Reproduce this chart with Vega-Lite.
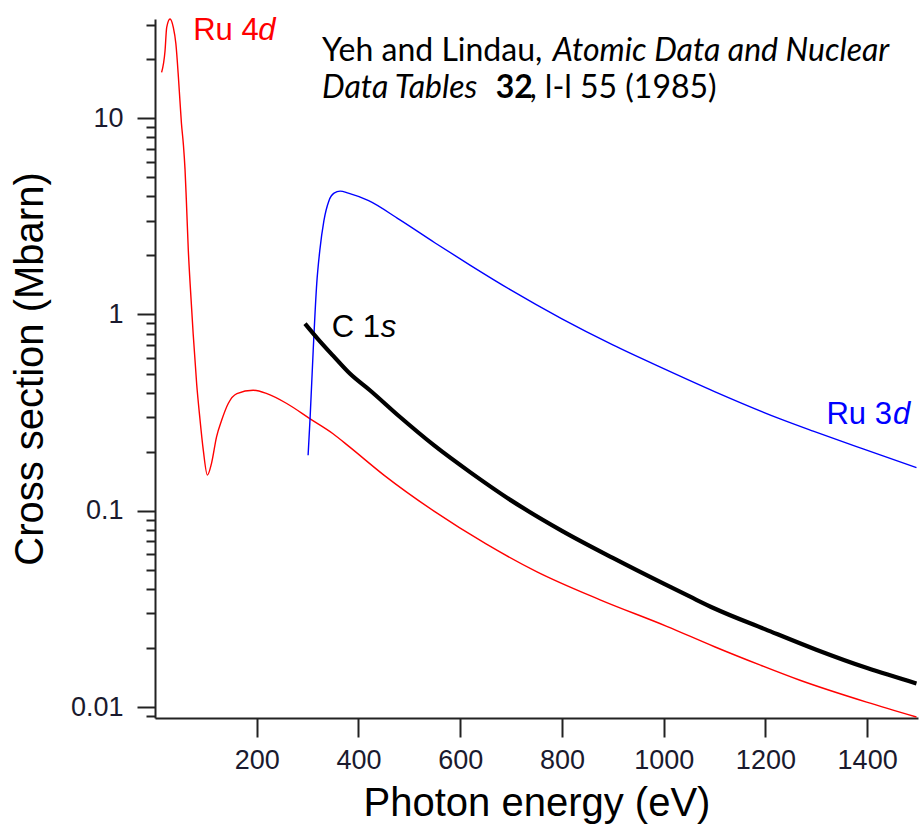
{
  "$schema": "https://vega.github.io/schema/vega-lite/v6.json",
  "width": 763,
  "height": 699,
  "autosize": "none",
  "padding": {"left": 155, "top": 19, "right": 3, "bottom": 111},
  "background": "white",
  "config": {"view": {"stroke": null}, "font": "Liberation Sans"},
  "datasets": {
    "curves": [
      {"series": "Ru 4d", "E": 13, "sigma": 17.1},
      {"series": "Ru 4d", "E": 19.7, "sigma": 22},
      {"series": "Ru 4d", "E": 23, "sigma": 29},
      {"series": "Ru 4d", "E": 29.5, "sigma": 32},
      {"series": "Ru 4d", "E": 36, "sigma": 29},
      {"series": "Ru 4d", "E": 41, "sigma": 24},
      {"series": "Ru 4d", "E": 46, "sigma": 16.2},
      {"series": "Ru 4d", "E": 49, "sigma": 12.3},
      {"series": "Ru 4d", "E": 52, "sigma": 9.4},
      {"series": "Ru 4d", "E": 55.7, "sigma": 7.4},
      {"series": "Ru 4d", "E": 59, "sigma": 5.5},
      {"series": "Ru 4d", "E": 61.5, "sigma": 3.9},
      {"series": "Ru 4d", "E": 65.5, "sigma": 2.12},
      {"series": "Ru 4d", "E": 69, "sigma": 1.44},
      {"series": "Ru 4d", "E": 75, "sigma": 0.8},
      {"series": "Ru 4d", "E": 82, "sigma": 0.44},
      {"series": "Ru 4d", "E": 88, "sigma": 0.3},
      {"series": "Ru 4d", "E": 95, "sigma": 0.203},
      {"series": "Ru 4d", "E": 103, "sigma": 0.152},
      {"series": "Ru 4d", "E": 111, "sigma": 0.174},
      {"series": "Ru 4d", "E": 121, "sigma": 0.238},
      {"series": "Ru 4d", "E": 131, "sigma": 0.289},
      {"series": "Ru 4d", "E": 144, "sigma": 0.352},
      {"series": "Ru 4d", "E": 161, "sigma": 0.395},
      {"series": "Ru 4d", "E": 193, "sigma": 0.411},
      {"series": "Ru 4d", "E": 220, "sigma": 0.395},
      {"series": "Ru 4d", "E": 259, "sigma": 0.352},
      {"series": "Ru 4d", "E": 305, "sigma": 0.294},
      {"series": "Ru 4d", "E": 350, "sigma": 0.247},
      {"series": "Ru 4d", "E": 383, "sigma": 0.211},
      {"series": "Ru 4d", "E": 450, "sigma": 0.152},
      {"series": "Ru 4d", "E": 550, "sigma": 0.099},
      {"series": "Ru 4d", "E": 650, "sigma": 0.068},
      {"series": "Ru 4d", "E": 750, "sigma": 0.049},
      {"series": "Ru 4d", "E": 875, "sigma": 0.0352},
      {"series": "Ru 4d", "E": 1006, "sigma": 0.0258},
      {"series": "Ru 4d", "E": 1100, "sigma": 0.0203},
      {"series": "Ru 4d", "E": 1189, "sigma": 0.0164},
      {"series": "Ru 4d", "E": 1268, "sigma": 0.0137},
      {"series": "Ru 4d", "E": 1399, "sigma": 0.0106},
      {"series": "Ru 4d", "E": 1497, "sigma": 0.0089},
      {"series": "Ru 3d", "E": 301, "sigma": 0.192},
      {"series": "Ru 3d", "E": 305, "sigma": 0.3},
      {"series": "Ru 3d", "E": 311, "sigma": 0.656},
      {"series": "Ru 3d", "E": 318, "sigma": 1.44},
      {"series": "Ru 3d", "E": 324, "sigma": 2.12},
      {"series": "Ru 3d", "E": 332, "sigma": 3.0},
      {"series": "Ru 3d", "E": 342, "sigma": 3.8},
      {"series": "Ru 3d", "E": 352, "sigma": 4.15},
      {"series": "Ru 3d", "E": 364, "sigma": 4.25},
      {"series": "Ru 3d", "E": 380, "sigma": 4.15},
      {"series": "Ru 3d", "E": 420, "sigma": 3.8},
      {"series": "Ru 3d", "E": 480, "sigma": 3.05},
      {"series": "Ru 3d", "E": 550, "sigma": 2.32},
      {"series": "Ru 3d", "E": 620, "sigma": 1.78},
      {"series": "Ru 3d", "E": 700, "sigma": 1.33},
      {"series": "Ru 3d", "E": 800, "sigma": 0.95},
      {"series": "Ru 3d", "E": 900, "sigma": 0.7},
      {"series": "Ru 3d", "E": 1000, "sigma": 0.53},
      {"series": "Ru 3d", "E": 1100, "sigma": 0.405},
      {"series": "Ru 3d", "E": 1229, "sigma": 0.294},
      {"series": "Ru 3d", "E": 1294, "sigma": 0.2546},
      {"series": "Ru 3d", "E": 1392, "sigma": 0.2067},
      {"series": "Ru 3d", "E": 1497, "sigma": 0.166},
      {"series": "C 1s", "E": 295, "sigma": 0.898},
      {"series": "C 1s", "E": 320, "sigma": 0.752},
      {"series": "C 1s", "E": 350, "sigma": 0.617},
      {"series": "C 1s", "E": 383, "sigma": 0.5},
      {"series": "C 1s", "E": 423, "sigma": 0.41},
      {"series": "C 1s", "E": 480, "sigma": 0.303},
      {"series": "C 1s", "E": 550, "sigma": 0.214},
      {"series": "C 1s", "E": 620, "sigma": 0.157},
      {"series": "C 1s", "E": 700, "sigma": 0.113},
      {"series": "C 1s", "E": 800, "sigma": 0.079},
      {"series": "C 1s", "E": 900, "sigma": 0.0575},
      {"series": "C 1s", "E": 1000, "sigma": 0.0425},
      {"series": "C 1s", "E": 1052, "sigma": 0.0365},
      {"series": "C 1s", "E": 1100, "sigma": 0.0318},
      {"series": "C 1s", "E": 1200, "sigma": 0.0249},
      {"series": "C 1s", "E": 1300, "sigma": 0.0196},
      {"series": "C 1s", "E": 1400, "sigma": 0.0158},
      {"series": "C 1s", "E": 1497, "sigma": 0.0132}
    ]
  },
  "layer": [
    {
      "data": {"name": "curves"},
      "transform": [{"filter": "datum.series === 'Ru 4d'"}],
      "mark": {"type": "line", "clip": false, "interpolate": "monotone", "strokeJoin": "round", "color": "#ff0000", "strokeWidth": 1.4},
      "encoding": {
        "x": {
          "field": "E", "type": "quantitative",
          "scale": {"domain": [0, 1500], "nice": false, "zero": false},
          "axis": {
            "values": [200, 400, 600, 800, 1000, 1200, 1400],
            "format": "d",
            "title": "Photon energy (eV)",
            "titleFontSize": 40, "titleFontWeight": "normal", "titleColor": "#000000", "titleFont": "Liberation Sans",
            "titlePadding": 10,
            "labelFontSize": 27, "labelColor": "#1a1a2e", "labelFont": "Liberation Sans", "labelPadding": 10,
            "tickSize": 19, "tickWidth": 2, "tickColor": "#222222",
            "domainColor": "#222222", "domainWidth": 2, "grid": false
          }
        },
        "y": {
          "field": "sigma", "type": "quantitative",
          "scale": {"type": "log", "domain": [0.0088, 32], "nice": false},
          "axis": {
            "values": [0.009, 0.01, 0.02, 0.03, 0.04, 0.05, 0.06, 0.07, 0.08, 0.09, 0.1, 0.2, 0.3, 0.4, 0.5, 0.6, 0.7, 0.8, 0.9, 1, 2, 3, 4, 5, 6, 7, 8, 9, 10, 20, 30],
            "format": "~g",
            "labelExpr": "abs(log(datum.value)/LN10 - round(log(datum.value)/LN10)) < 0.001 ? datum.label : ''",
            "tickSize": {"condition": {"test": "abs(log(datum.value)/LN10 - round(log(datum.value)/LN10)) < 0.001", "value": 18}, "value": 9},
            "title": "Cross section (Mbarn)",
            "titleFontSize": 40, "titleFontWeight": "normal", "titleColor": "#000000", "titleFont": "Liberation Sans",
            "titlePadding": 20,
            "labelFontSize": 27, "labelColor": "#1a1a2e", "labelFont": "Liberation Sans", "labelPadding": 14,
            "tickWidth": 2, "tickColor": "#222222",
            "domainColor": "#222222", "domainWidth": 2, "grid": false
          }
        }
      }
    },
    {
      "data": {"name": "curves"},
      "transform": [{"filter": "datum.series === 'Ru 3d'"}],
      "mark": {"type": "line", "clip": false, "interpolate": "monotone", "strokeJoin": "round", "color": "#0000ff", "strokeWidth": 1.4},
      "encoding": {
        "x": {"field": "E", "type": "quantitative"},
        "y": {"field": "sigma", "type": "quantitative"}
      }
    },
    {
      "data": {"name": "curves"},
      "transform": [{"filter": "datum.series === 'C 1s'"}],
      "mark": {"type": "line", "clip": false, "interpolate": "monotone", "strokeJoin": "round", "color": "#000000", "strokeWidth": 4.2},
      "encoding": {
        "x": {"field": "E", "type": "quantitative"},
        "y": {"field": "sigma", "type": "quantitative"}
      }
    },
    {"data": {"values": [{}]},
     "mark": {"type": "text", "text": "Ru 4", "align": "left", "baseline": "alphabetic", "fontSize": 31, "color": "#ff0000", "font": "Liberation Sans"},
     "encoding": {"x": {"datum": 75}, "y": {"datum": 24.9}}},
    {"data": {"values": [{}]},
     "mark": {"type": "text", "text": "d", "align": "left", "baseline": "alphabetic", "fontSize": 31, "fontStyle": "italic", "color": "#ff0000", "font": "Liberation Sans"},
     "encoding": {"x": {"datum": 203}, "y": {"datum": 24.9}}},
    {"data": {"values": [{}]},
     "mark": {"type": "text", "text": "C 1", "align": "left", "baseline": "alphabetic", "fontSize": 31, "color": "#000000", "font": "Liberation Sans"},
     "encoding": {"x": {"datum": 347.6}, "y": {"datum": 0.767}}},
    {"data": {"values": [{}]},
     "mark": {"type": "text", "text": "s", "align": "left", "baseline": "alphabetic", "fontSize": 31, "fontStyle": "italic", "color": "#000000", "font": "Liberation Sans"},
     "encoding": {"x": {"datum": 444}, "y": {"datum": 0.767}}},
    {"data": {"values": [{}]},
     "mark": {"type": "text", "text": "Ru 3", "align": "left", "baseline": "alphabetic", "fontSize": 31, "color": "#0000ff", "font": "Liberation Sans"},
     "encoding": {"x": {"datum": 1320}, "y": {"datum": 0.278}}},
    {"data": {"values": [{}]},
     "mark": {"type": "text", "text": "d", "align": "left", "baseline": "alphabetic", "fontSize": 31, "fontStyle": "italic", "color": "#0000ff", "font": "Liberation Sans"},
     "encoding": {"x": {"datum": 1451}, "y": {"datum": 0.278}}},
    {"data": {"values": [{}]},
     "mark": {"type": "text", "text": "Yeh and Lindau,", "align": "left", "baseline": "alphabetic", "fontSize": 32, "color": "#000000", "font": "Lato"},
     "encoding": {"x": {"datum": 328.5}, "y": {"datum": 19.45}}},
    {"data": {"values": [{}]},
     "mark": {"type": "text", "text": "Atomic Data and Nuclear", "align": "left", "baseline": "alphabetic", "fontSize": 32, "fontStyle": "italic", "color": "#000000", "font": "Lato"},
     "encoding": {"x": {"datum": 782}, "y": {"datum": 19.45}}},
    {"data": {"values": [{}]},
     "mark": {"type": "text", "text": "Data Tables", "align": "left", "baseline": "alphabetic", "fontSize": 32, "fontStyle": "italic", "color": "#000000", "font": "Lato"},
     "encoding": {"x": {"datum": 328.5}, "y": {"datum": 12.6}}},
    {"data": {"values": [{}]},
     "mark": {"type": "text", "text": "32", "align": "left", "baseline": "alphabetic", "fontSize": 32, "fontWeight": "bold", "color": "#000000", "font": "Lato"},
     "encoding": {"x": {"datum": 670}, "y": {"datum": 12.6}}},
    {"data": {"values": [{}]},
     "mark": {"type": "text", "text": ", l-l 55 (1985)", "align": "left", "baseline": "alphabetic", "fontSize": 32, "color": "#000000", "font": "Lato"},
     "encoding": {"x": {"datum": 736}, "y": {"datum": 12.6}}}
  ]
}
